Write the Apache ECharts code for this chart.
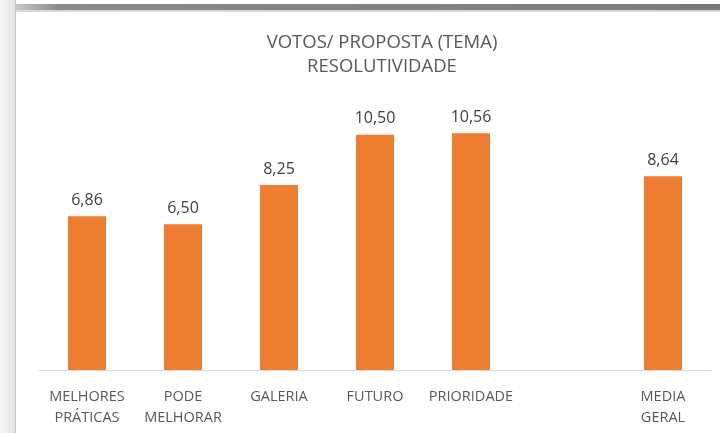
<!DOCTYPE html>
<html>
<head>
<meta charset="utf-8">
<script src="https://cdn.jsdelivr.net/npm/echarts@6/dist/echarts.min.js"></script>
<style>html,body{margin:0;padding:0;background:#fff}#c{width:720px;height:433px}</style>
</head>
<body>
<div id="c"></div>
<script>
var titleLines = ['VOTOS/ PROPOSTA (TEMA)', 'RESOLUTIVIDADE'];
var categories = ['MELHORES\nPRÁTICAS', 'PODE\nMELHORAR', 'GALERIA', 'FUTURO', 'PRIORIDADE', '', 'MEDIA\nGERAL'];
var values = [6.86, 6.50, 8.25, 10.50, 10.56, null, 8.64];
var yMax = 12;

var chart = echarts.init(document.getElementById('c'), null, {renderer: 'canvas'});
chart.setOption({
  animation: false,
  backgroundColor: '#ffffff',
  title: {
    text: titleLines.join('\n'),
    left: 377, textAlign: 'center', top: 26,
    textStyle: {fontFamily: 'Open Sans', fontSize: 18.5, fontWeight: 'normal', color: '#595959', lineHeight: 24}
  },
  graphic: [
    {type: 'rect', shape: {x: 0, y: 0, width: 15, height: 433}, style: {fill: new echarts.graphic.LinearGradient(0, 0, 1, 0, [{offset: 0, color: '#f7f7f7'}, {offset: 1, color: '#e4e4e4'}])}, silent: true},
    {type: 'rect', shape: {x: 15, y: 0, width: 1, height: 433}, style: {fill: '#c8c8c8'}, silent: true},
    {type: 'rect', shape: {x: 16, y: 4, width: 704, height: 6}, style: {fill: new echarts.graphic.LinearGradient(0, 0, 1, 0, [{offset: 0, color: '#c8c8c8'}, {offset: 0.06, color: '#8a8a8a'}, {offset: 1, color: '#7a7a7a'}])}, silent: true},
    {type: 'rect', shape: {x: 16, y: 10, width: 704, height: 2}, style: {fill: '#d8d8d8'}, silent: true}
  ],
  grid: {left: 39, right: 9, top: 101, bottom: 63, containLabel: false},
  xAxis: {
    type: 'category', data: categories,
    axisLine: {lineStyle: {color: '#d9d9d9', width: 1}},
    axisTick: {show: false},
    axisLabel: {interval: 0, margin: 16, fontFamily: 'Open Sans', fontSize: 14.5, color: '#595959', lineHeight: 21}
  },
  yAxis: {type: 'value', min: 0, max: yMax, show: false, splitLine: {show: false}},
  series: [{
    type: 'bar', data: values, barWidth: 38,
    itemStyle: {color: '#ed7d31'},
    label: {
      show: true, position: 'top', distance: 8,
      fontFamily: 'Open Sans', fontSize: 16, color: '#404040',
      formatter: function (p) { return p.value == null ? '' : p.value.toFixed(2).replace('.', ','); }
    }
  }]
});
</script>
</body>
</html>
